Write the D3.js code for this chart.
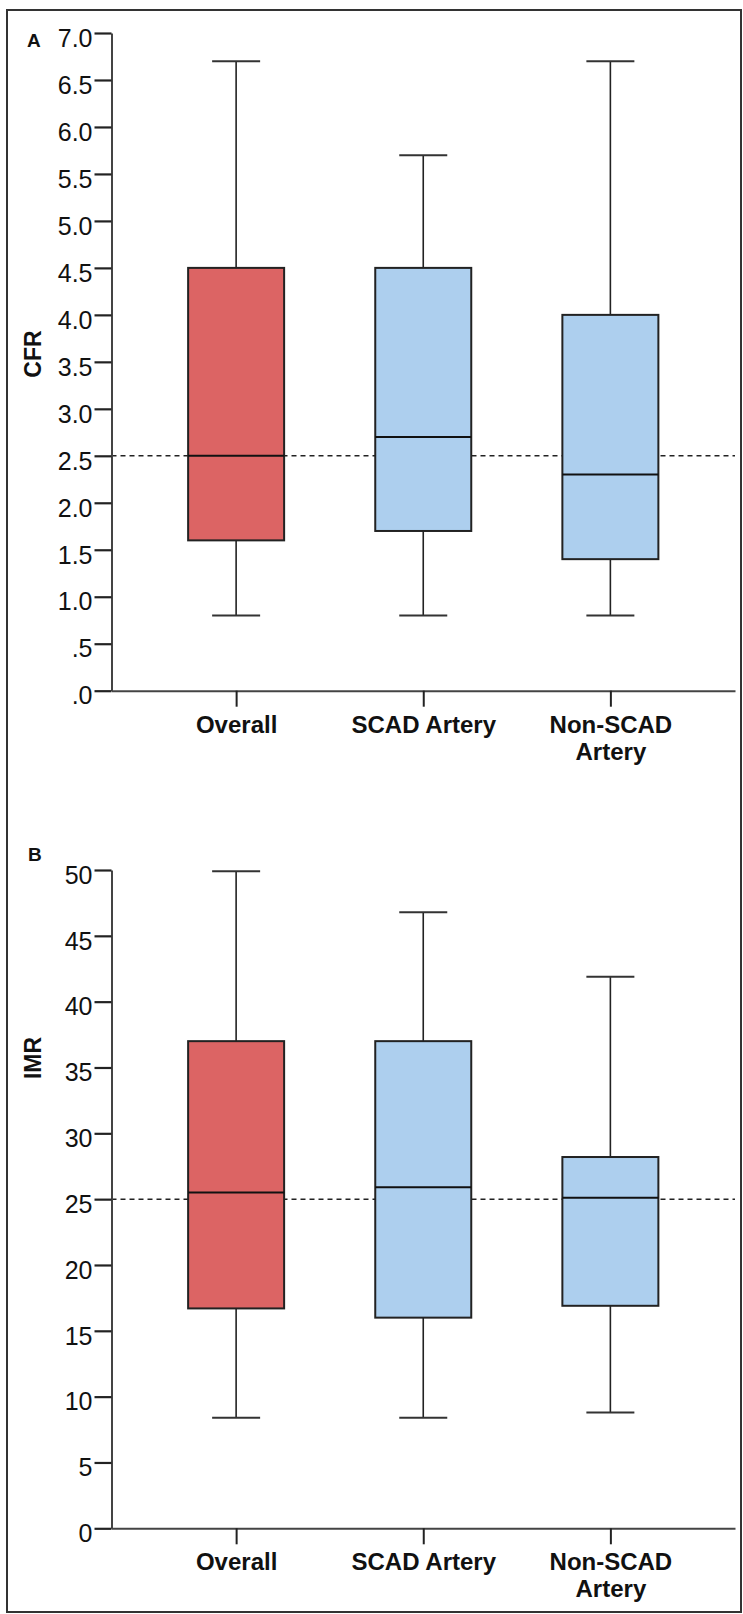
<!DOCTYPE html>
<html>
<head>
<meta charset="utf-8">
<script src="https://cdn.jsdelivr.net/npm/d3@7/dist/d3.min.js"></script>
<style>
  html, body { margin: 0; padding: 0; background: #fff; }
  svg { display: block; }
  text { font-family: "Liberation Sans", Arial, Helvetica, sans-serif; fill: #111; }
</style>
</head>
<body>
<svg id="chart" width="743" height="1614"></svg>
<script>
// ---- Data ----
const categories = ["Overall", "SCAD Artery", "Non-SCAD Artery"];
const boxColors = ["#DC6464", "#ADCFEE", "#ADCFEE"];

// Panel A: CFR
const cfrMin    = [0.8, 0.8, 0.8];
const cfrQ1     = [1.6, 1.7, 1.4];
const cfrMedian = [2.5, 2.7, 2.3];
const cfrQ3     = [4.5, 4.5, 4.0];
const cfrMax    = [6.7, 5.7, 6.7];
const cfrTicks  = [0, 0.5, 1, 1.5, 2, 2.5, 3, 3.5, 4, 4.5, 5, 5.5, 6, 6.5, 7];
const cfrTickLabels = [".0", ".5", "1.0", "1.5", "2.0", "2.5", "3.0", "3.5", "4.0", "4.5", "5.0", "5.5", "6.0", "6.5", "7.0"];
const cfrRef = 2.5;

// Panel B: IMR
const imrMin    = [8.4, 8.4, 8.8];
const imrQ1     = [16.7, 16.0, 16.9];
const imrMedian = [25.5, 25.9, 25.1];
const imrQ3     = [37.0, 37.0, 28.2];
const imrMax    = [49.9, 46.8, 41.9];
const imrTicks  = [0, 5, 10, 15, 20, 25, 30, 35, 40, 45, 50];
const imrTickLabels = ["0", "5", "10", "15", "20", "25", "30", "35", "40", "45", "50"];
const imrRef = 25;

// ---- Drawing ----
const svg = d3.select("#chart");

// outer frame
svg.append("rect")
  .attr("x", 7).attr("y", 10)
  .attr("width", 734).attr("height", 1602)
  .attr("fill", "none").attr("stroke", "#333").attr("stroke-width", 2);

const axisX = 111.5, axisRight = 735;
const x = d3.scalePoint().domain(categories).range([axisX, axisRight]).padding(0.666);
const boxW = 96, capW = 48;

function drawPanel(opt) {
  const g = svg.append("g");
  const y = d3.scaleLinear().domain(opt.domain).range([opt.bottom, opt.top]);
  const rows = categories.map((c, i) => ({
    cat: c, min: opt.min[i], q1: opt.q1[i], med: opt.med[i], q3: opt.q3[i], max: opt.max[i], color: boxColors[i]
  }));

  // reference dashed line
  g.append("line")
    .attr("x1", axisX).attr("x2", axisRight)
    .attr("y1", y(opt.ref)).attr("y2", y(opt.ref))
    .attr("stroke", "#222").attr("stroke-width", 1.5)
    .attr("stroke-dasharray", "5,4");

  const bx = g.selectAll("g.box").data(rows).enter().append("g").attr("class", "box");
  // whiskers
  bx.append("line")
    .attr("x1", d => x(d.cat)).attr("x2", d => x(d.cat))
    .attr("y1", d => y(d.max)).attr("y2", d => y(d.q3))
    .attr("stroke", "#222").attr("stroke-width", 1.6);
  bx.append("line")
    .attr("x1", d => x(d.cat)).attr("x2", d => x(d.cat))
    .attr("y1", d => y(d.q1)).attr("y2", d => y(d.min))
    .attr("stroke", "#222").attr("stroke-width", 1.6);
  // caps
  bx.append("line")
    .attr("x1", d => x(d.cat) - capW / 2).attr("x2", d => x(d.cat) + capW / 2)
    .attr("y1", d => y(d.max)).attr("y2", d => y(d.max))
    .attr("stroke", "#333").attr("stroke-width", 2);
  bx.append("line")
    .attr("x1", d => x(d.cat) - capW / 2).attr("x2", d => x(d.cat) + capW / 2)
    .attr("y1", d => y(d.min)).attr("y2", d => y(d.min))
    .attr("stroke", "#333").attr("stroke-width", 2);
  // boxes
  bx.append("rect")
    .attr("x", d => x(d.cat) - boxW / 2).attr("width", boxW)
    .attr("y", d => y(d.q3)).attr("height", d => y(d.q1) - y(d.q3))
    .attr("fill", d => d.color).attr("stroke", "#222").attr("stroke-width", 2);
  // medians
  bx.append("line")
    .attr("x1", d => x(d.cat) - boxW / 2).attr("x2", d => x(d.cat) + boxW / 2)
    .attr("y1", d => y(d.med)).attr("y2", d => y(d.med))
    .attr("stroke", "#111").attr("stroke-width", 2);

  // y axis
  const ya = g.append("g").attr("transform", `translate(${axisX},0)`)
    .call(d3.axisLeft(y).tickValues(opt.ticks).tickSize(17).tickSizeOuter(0).tickPadding(2)
      .tickFormat((d, i) => opt.tickLabels[i]));
  ya.select(".domain").attr("stroke", "#444").attr("stroke-width", 2);
  ya.selectAll(".tick line").attr("stroke", "#222").attr("stroke-width", 2.2);
  ya.selectAll(".tick text")
    .attr("font-family", '"Liberation Sans", Arial, sans-serif')
    .attr("font-size", 25).attr("fill", "#111").attr("dy", "0.53em");

  // x axis
  const xa = g.append("g").attr("transform", `translate(0,${opt.bottom})`)
    .call(d3.axisBottom(x).tickSize(16).tickSizeOuter(0).tickPadding(9));
  xa.select(".domain").attr("stroke", "#444").attr("stroke-width", 2);
  xa.selectAll(".tick line").attr("stroke", "#222").attr("stroke-width", 2);
  xa.selectAll(".tick text")
    .attr("font-family", '"Liberation Sans", Arial, sans-serif')
    .attr("font-size", 24).attr("font-weight", "bold").attr("fill", "#111")
    .each(function (d) {
      const t = d3.select(this);
      if (d === "Non-SCAD Artery") {
        t.text(null);
        t.append("tspan").attr("x", 0).text("Non-SCAD");
        t.append("tspan").attr("x", 0).attr("dy", 27).text("Artery");
      }
    });

  // y label
  g.append("text")
    .attr("transform", `translate(${opt.labelX},${opt.labelY}) rotate(-90)`)
    .attr("text-anchor", "middle")
    .attr("font-size", 23).attr("font-weight", "bold")
    .text(opt.yLabel);

  // panel letter
  g.append("text")
    .attr("x", opt.letterX).attr("y", opt.letterY)
    .attr("font-size", 19).attr("font-weight", "bold")
    .text(opt.letter);
}

drawPanel({
  domain: [0, 7], top: 33, bottom: 690.7,
  min: cfrMin, q1: cfrQ1, med: cfrMedian, q3: cfrQ3, max: cfrMax,
  ticks: cfrTicks, tickLabels: cfrTickLabels, ref: cfrRef,
  yLabel: "CFR", labelX: 41, labelY: 354,
  letter: "A", letterX: 27, letterY: 47
});

drawPanel({
  domain: [0, 50], top: 870, bottom: 1528.3,
  min: imrMin, q1: imrQ1, med: imrMedian, q3: imrQ3, max: imrMax,
  ticks: imrTicks, tickLabels: imrTickLabels, ref: imrRef,
  yLabel: "IMR", labelX: 41, labelY: 1058,
  letter: "B", letterX: 28, letterY: 861
});
</script>
</body>
</html>
